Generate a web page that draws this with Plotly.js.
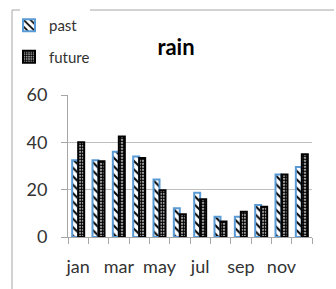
<!DOCTYPE html>
<html><head><meta charset="utf-8">
<script src="https://cdn.plot.ly/plotly-3.0.1.min.js"></script>
<style>html,body{margin:0;padding:0;background:#fff}#c{width:336px;height:289px}</style>
</head><body><div id="c"></div>
<script>
const months = ['jan','feb','mar','apr','may','jun','jul','aug','sep','oct','nov','dec'];
const tickLabels = ['jan','','mar','','may','','jul','','sep','','nov',''];
const past = [32.4, 32.4, 36, 34, 24.3, 12.2, 18.7, 8.6, 8.6, 13.5, 26.4, 29.6];
const future = [40, 32, 42.5, 33.4, 19.8, 9.6, 16, 6.5, 10.7, 12.8, 26.4, 35];

const W = 336, H = 289, L = 68, R = 24, T = 95, B = 52;
const pw = W - L - R, ph = H - T - B;
const px = v => (v - L) / pw;
const py = v => (H - B - v) / ph;

const font = 'Lato, "Open Sans", sans-serif';
const data = [
  {type:'bar', name:'past', x:months, y:past, legendgroup:'a',
   marker:{color:'#ffffff', line:{color:'#5B9BD5', width:2},
     pattern:{shape:'\\', fgcolor:'#000000', bgcolor:'#ffffff', size:6, solidity:0.35}}},
  {type:'bar', name:'future', x:months, y:future, legendgroup:'b',
   marker:{color:'#ffffff', line:{color:'#000000', width:2},
     pattern:{shape:'.', fgcolor:'#000000', bgcolor:'#ffffff', size:3, solidity:0.7}}}
];
const layout = {
  width:W, height:H, margin:{l:L, r:R, t:T, b:B, autoexpand:false},
  paper_bgcolor:'#fff', plot_bgcolor:'#fff',
  font:{family:font, color:'#333333', size:15},
  title:{text:'<b>rain</b>', font:{family:font, size:22, color:'#000'},
    x:176/W, xref:'container', xanchor:'center', y:1-47/H, yref:'container', yanchor:'middle'},
  barmode:'group', bargap:0.41, bargroupgap:0,
  showlegend:true,
  legend:{x:9/W, xref:'container', y:1-9/H, yref:'container', xanchor:'left', yanchor:'top', traceorder:'grouped',
    tracegroupgap:9, bgcolor:'rgba(0,0,0,0)', font:{family:font, size:15, color:'#333333'}},
  xaxis:{type:'category', tickvals:months, ticktext:tickLabels, tickson:'boundaries', tickangle:0, automargin:false,
    ticks:'outside', ticklen:6, tickcolor:'#a6a6a6', showline:true, linecolor:'#a6a6a6',
    showgrid:false, ticklabelstandoff:13, tickfont:{size:18, color:'#333333'}, fixedrange:true},
  yaxis:{range:[0,60], tickvals:[0,20,40,60], ticks:'outside', ticklen:6, tickcolor:'#a6a6a6', automargin:false,
    showline:true, linecolor:'#a6a6a6', gridcolor:'#bfbfbf', gridwidth:1, zeroline:false,
    ticklabelstandoff:10, tickfont:{size:18, color:'#333333'}, fixedrange:true},
  shapes:[
    {type:'line', xref:'paper', yref:'paper', x0:px(12), x1:px(12), y0:py(10), y1:py(289), line:{color:'#a6a6a6', width:1}},
    {type:'line', xref:'paper', yref:'paper', x0:px(12), x1:px(20), y0:py(10), y1:py(10), line:{color:'#a6a6a6', width:1}},
    {type:'line', xref:'paper', yref:'paper', x0:px(90), x1:px(334), y0:py(10), y1:py(10), line:{color:'#a6a6a6', width:1}}
  ]
};
Plotly.newPlot('c', data, layout, {displayModeBar:false, staticPlot:true});
</script></body></html>
